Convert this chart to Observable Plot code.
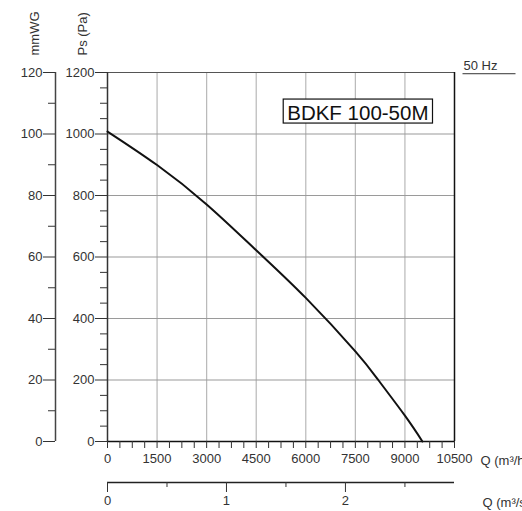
<!DOCTYPE html>
<html>
<head>
<meta charset="utf-8">
<script src="https://cdn.jsdelivr.net/npm/d3@7"></script>
<script src="https://cdn.jsdelivr.net/npm/@observablehq/plot@0.6"></script>
<style>
  html, body { margin: 0; padding: 0; background: #fff; }
  svg { display: block; }
</style>
</head>
<body>
<div id="chart"></div>
<script>
// Fan curve: flow Q (m³/h) vs static pressure Ps (Pa)
const flow     = [0, 1500, 3000, 4500, 6000, 7500, 8194, 9000, 9530];
const pressure = [1008, 899, 771, 622, 467, 293, 200, 84, 0];

const paTicks      = [0, 200, 400, 600, 800, 1000, 1200];
const paMinorTicks = [50, 100, 150, 250, 300, 350, 450, 500, 550, 650, 700, 750, 850, 900, 950, 1050, 1100, 1150];
const mmwgTicks      = [0, 20, 40, 60, 80, 100, 120];
const mmwgMinorTicks = [10, 30, 50, 70, 90, 110];
const qhTicks      = [0, 1500, 3000, 4500, 6000, 7500, 9000, 10500];
const qhMinorTicks = [375, 750, 1125, 1875, 2250, 2625, 3375, 3750, 4125, 4875, 5250, 5625, 6375, 6750, 7125, 7875, 8250, 8625, 9375, 9750, 10125];
const qsTicks      = [0, 1, 2];
const qsMinorTicks = [0.5, 1.5, 2.5];

const modelLabel = "BDKF 100-50M";
const freqLabel  = "50 Hz";
const paLabel    = "Ps (Pa)";
const mmwgLabel  = "mmWG";
const qhLabel    = "Q (m³/h)";
const qsLabel    = "Q (m³/s)";

const PA_PER_MMWG = 10;     // scale alignment in the chart: 120 mmWG ↔ 1200 Pa
const M3H_PER_M3S = 3600;

const data = flow.map((q, i) => ({q, p: pressure[i]}));

const axisColor = "#333";
const fmt = d3.format("d");
const mmOffset = -52;
const qsOffset = 41;

const chart = Plot.plot({
  width: 522,
  height: 511,
  marginLeft: 107,
  marginRight: 68,
  marginTop: 72,
  marginBottom: 70,
  style: {fontFamily: "Arial, 'Liberation Sans', sans-serif", fontSize: "13px", color: axisColor, background: "#fff", overflow: "hidden"},
  x: {domain: [0, 10500], axis: null, label: null},
  y: {domain: [0, 1200], axis: null, label: null},
  marks: [
    Plot.gridX({ticks: qhTicks.filter(d => d > 0 && d < 10500), stroke: "#b8b8b8", strokeOpacity: 1, strokeWidth: 1.2}),
    Plot.gridY({ticks: paTicks.filter(d => d > 0 && d < 1200), stroke: "#9a9a9a", strokeOpacity: 1, strokeWidth: 1.2}),
    // frame
    Plot.ruleY([1200], {stroke: "#555", strokeWidth: 1.2}),
    Plot.ruleX([10500], {stroke: "#111", strokeWidth: 1.5}),
    Plot.ruleY([0], {stroke: "#111", strokeWidth: 1.5}),
    Plot.ruleX([0], {stroke: "#333", strokeWidth: 1.5}),
    // Pa axis
    Plot.axisY({ticks: paTicks, tickFormat: fmt, label: null, tickSize: 12, tickPadding: 1, stroke: axisColor}),
    Plot.axisY({ticks: paMinorTicks, tickSize: 7, tickFormat: () => "", label: null, stroke: axisColor}),
    // mmWG axis
    Plot.ruleX([0], {dx: mmOffset, stroke: "#444", strokeWidth: 1.5}),
    Plot.axisY({ticks: mmwgTicks.map(d => d * PA_PER_MMWG), tickFormat: d => fmt(d / PA_PER_MMWG), label: null, tickSize: 12, tickPadding: 1, dx: mmOffset, stroke: axisColor}),
    Plot.axisY({ticks: mmwgMinorTicks.map(d => d * PA_PER_MMWG), tickSize: 7, tickFormat: () => "", label: null, dx: mmOffset, stroke: axisColor}),
    // Q m3/h axis
    Plot.axisX({ticks: qhTicks, tickFormat: fmt, label: null, tickSize: 7, tickPadding: 5, stroke: axisColor}),
    Plot.axisX({ticks: qhMinorTicks, tickSize: 7, tickFormat: () => "", label: null, stroke: axisColor}),
    // Q m3/s axis
    Plot.ruleY([0], {dy: qsOffset, stroke: "#222", strokeWidth: 1.5}),
    Plot.axisX({ticks: qsTicks.map(d => d * M3H_PER_M3S), tickFormat: d => fmt(d / M3H_PER_M3S), label: null, tickSize: 10, tickPadding: 3, dy: qsOffset, stroke: axisColor}),
    Plot.axisX({ticks: qsMinorTicks.map(d => d * M3H_PER_M3S), tickSize: 5, tickFormat: () => "", label: null, dy: qsOffset, stroke: axisColor}),
    // curve
    Plot.line(data, {x: "q", y: "p", curve: "natural", stroke: "#111", strokeWidth: 2}),
    // labels
    Plot.text([mmwgLabel], {frameAnchor: "top-left", rotate: -90, textAnchor: "start", lineAnchor: "middle", dx: -73, dy: -17, fill: axisColor}),
    Plot.text([paLabel], {frameAnchor: "top-left", rotate: -90, textAnchor: "start", lineAnchor: "middle", dx: -25, dy: -17, fill: axisColor}),
    Plot.text([qhLabel], {frameAnchor: "bottom-right", textAnchor: "start", lineAnchor: "top", dx: 26, dy: 14, fill: axisColor}),
    Plot.text([qsLabel], {frameAnchor: "bottom-right", textAnchor: "start", lineAnchor: "top", dx: 28, dy: 56, fill: axisColor}),
    Plot.text([freqLabel], {frameAnchor: "top-right", textAnchor: "start", lineAnchor: "top", dx: 9, dy: -12, fill: axisColor, className: "freq-label"}),
    Plot.text([modelLabel], {frameAnchor: "top-right", textAnchor: "end", lineAnchor: "top", dx: -26, dy: 33, fontSize: 20.5, fill: "#111", className: "model-label"})
  ]
});

document.getElementById("chart").appendChild(chart);

// Box around the model label and underline for the frequency label (derived from text bounds)
const ns = "http://www.w3.org/2000/svg";
const modelText = chart.querySelector(".model-label text");
if (modelText) {
  const b = modelText.getBBox();
  const t = modelText.getAttribute("transform");
  const r = document.createElementNS(ns, "rect");
  r.setAttribute("x", b.x - 4);
  r.setAttribute("y", b.y - 2);
  r.setAttribute("width", b.width + 8);
  r.setAttribute("height", b.height + 1);
  r.setAttribute("fill", "#fff");
  r.setAttribute("stroke", "#111");
  r.setAttribute("stroke-width", 1.2);
  if (t) r.setAttribute("transform", t);
  modelText.parentNode.insertBefore(r, modelText);
}
const freqText = chart.querySelector(".freq-label text");
if (freqText) {
  const b = freqText.getBBox();
  const t = freqText.getAttribute("transform");
  const l = document.createElementNS(ns, "line");
  l.setAttribute("x1", b.x - 1);
  l.setAttribute("x2", b.x + 52);
  l.setAttribute("y1", b.y + b.height + 1);
  l.setAttribute("y2", b.y + b.height + 1);
  l.setAttribute("stroke", "#333");
  l.setAttribute("stroke-width", 1);
  if (t) l.setAttribute("transform", t);
  freqText.parentNode.insertBefore(l, freqText);
}
</script>
</body>
</html>
